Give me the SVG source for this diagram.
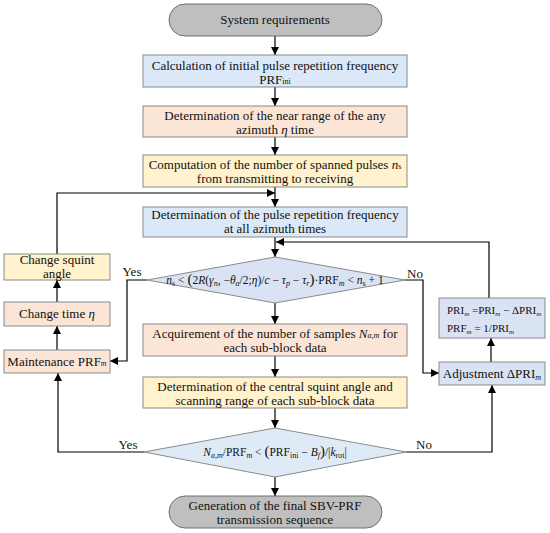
<svg xmlns="http://www.w3.org/2000/svg" width="550" height="533" viewBox="0 0 550 533">
<defs>
<marker id="ah" viewBox="0 0 10 10" refX="10" refY="5" markerWidth="8" markerHeight="8" markerUnits="userSpaceOnUse" orient="auto">
<path d="M0,0 L10,5 L0,10 z" fill="#000"/>
</marker>
</defs>
<style>
text { font-family: "Liberation Serif", "DejaVu Serif", serif; font-size: 13px; fill: #111; }
.c { text-anchor: middle; }
.term { fill: #bfbfbf; stroke: #6f6f6f; stroke-width: 1; }
.blue { fill: #dae8f7; stroke: #8a8a8a; stroke-width: 1; }
.peach { fill: #fbe5d6; stroke: #8a8a8a; stroke-width: 1; }
.yellow { fill: #fff2cc; stroke: #8a8a8a; stroke-width: 1; }
.lav { fill: #dae3f3; stroke: #8a8a8a; stroke-width: 1; }
.dia1 { fill: #dae3f3; stroke: #8a8a8a; stroke-width: 1; }
.dia2 { fill: #deebf7; stroke: #8a8a8a; stroke-width: 1; }
.arr { fill: none; stroke: #000; stroke-width: 1.2; marker-end: url(#ah); }
.sub { font-size: 8px; }
.i { font-style: italic; }
.f { font-size: 11.5px; }
.s { font-size: 11px; }
.s .sub { font-size: 7px; }
</style>

<g id="connectors">
<path class="arr" d="M275,36 V55"/>
<path class="arr" d="M275,87 V106"/>
<path class="arr" d="M275,137 V155"/>
<path class="arr" d="M275,187 V207"/>
<path class="arr" d="M57,254 V193 H275"/>
<path class="arr" d="M275,237 V257"/>
<path class="arr" d="M489,298 V242 H276"/>
<path class="arr" d="M275,303 V324"/>
<path class="arr" d="M275,356 V377"/>
<path class="arr" d="M275,408 V428"/>
<path class="arr" d="M275,477 V496"/>
<path class="arr" d="M147,280 H127 V361 H110"/>
<path class="arr" d="M57,350 V326"/>
<path class="arr" d="M57,302 V280"/>
<path class="arr" d="M144,452 H58 V373"/>
<path class="arr" d="M405,280 H423 V373 H439"/>
<path class="arr" d="M491,362 V338"/>
<path class="arr" d="M406,452 H492 V385"/>
<text class="c" x="132" y="276">Yes</text>
<text class="c" x="415" y="278">No</text>
<text class="c" x="128" y="449">Yes</text>
<text class="c" x="424" y="449">No</text>
</g>

<g id="start">
<rect class="term" x="169" y="4" width="213" height="32" rx="16"/>
<text class="c" x="275" y="24">System requirements</text>
</g>

<g id="calc-prf">
<rect class="blue" x="143" y="55" width="264" height="32"/>
<text class="c" x="275" y="70">Calculation of initial pulse repetition frequency</text>
<text class="c" x="275" y="84">PRF<tspan class="sub">ini</tspan></text>
</g>

<g id="near-range">
<rect class="peach" x="143" y="106" width="264" height="31"/>
<text class="c" x="275" y="120">Determination of the near range of the any</text>
<text class="c" x="275" y="134">azimuth <tspan class="i">η</tspan> time</text>
</g>

<g id="spanned">
<rect class="yellow" x="143" y="155" width="264" height="32"/>
<text class="c" x="275" y="169">Computation of the number of spanned pulses <tspan class="i">n</tspan><tspan class="sub">s</tspan></text>
<text class="c" x="275" y="183">from transmitting to receiving</text>
</g>

<g id="prf-all">
<rect class="blue" x="143" y="207" width="264" height="30"/>
<text class="c" x="275" y="219">Determination of the pulse repetition frequency</text>
<text class="c" x="275" y="233">at all azimuth times</text>
</g>

<g id="decision1">
<polygon class="dia1" points="147,280 275,257 405,280 275,303"/>
<text class="c f" x="275" y="284"><tspan class="i">n</tspan><tspan class="sub" dy="2">s</tspan><tspan dy="-2"> &lt; </tspan><tspan font-size="15">(</tspan>2<tspan class="i">R</tspan>(<tspan class="i">γ</tspan><tspan class="sub i" dy="2">n</tspan><tspan dy="-2">, −</tspan><tspan class="i">θ</tspan><tspan class="sub i" dy="2">a</tspan><tspan dy="-2">/2;</tspan><tspan class="i">η</tspan>)/<tspan class="i">c</tspan> − <tspan class="i">τ</tspan><tspan class="sub i" dy="2">p</tspan><tspan dy="-2"> − </tspan><tspan class="i">τ</tspan><tspan class="sub i" dy="2">r</tspan><tspan dy="-2" font-size="15">)</tspan>·PRF<tspan class="sub i" dy="2">m</tspan><tspan dy="-2"> &lt; </tspan><tspan class="i">n</tspan><tspan class="sub" dy="2">s</tspan><tspan dy="-2"> + 1</tspan></text>
</g>

<g id="samples">
<rect class="peach" x="143" y="324" width="264" height="32"/>
<text class="c" x="275" y="338">Acquirement of the number of samples <tspan class="i">N</tspan><tspan class="sub i">a,m</tspan> for</text>
<text class="c" x="275" y="352">each sub-block data</text>
</g>

<g id="squint-range">
<rect class="yellow" x="143" y="377" width="264" height="31"/>
<text class="c" x="275" y="391">Determination of the central squint angle and</text>
<text class="c" x="275" y="405">scanning range of each sub-block data</text>
</g>

<g id="decision2">
<polygon class="dia2" points="144,452 275,428 406,452 275,477"/>
<text class="c f" x="275" y="456"><tspan class="i">N</tspan><tspan class="sub i" dy="2">a,m</tspan><tspan dy="-2">/PRF</tspan><tspan class="sub i" dy="2">m</tspan><tspan dy="-2"> &lt; </tspan><tspan font-size="15">(</tspan>PRF<tspan class="sub" dy="2">ini</tspan><tspan dy="-2"> − </tspan><tspan class="i">B</tspan><tspan class="sub i" dy="2">f</tspan><tspan dy="-2" font-size="15">)</tspan>/|<tspan class="i">k</tspan><tspan class="sub" dy="2">rot</tspan><tspan dy="-2">|</tspan></text>
</g>

<g id="end">
<rect class="term" x="169" y="496" width="213" height="32" rx="16"/>
<text class="c" x="275" y="510">Generation of the final SBV-PRF</text>
<text class="c" x="275" y="524">transmission sequence</text>
</g>

<g id="change-squint">
<rect class="yellow" x="4" y="254" width="106" height="26"/>
<text class="c" x="57" y="264">Change squint</text>
<text class="c" x="57" y="278">angle</text>
</g>

<g id="change-time">
<rect class="peach" x="4" y="302" width="106" height="24"/>
<text class="c" x="57" y="318">Change time <tspan class="i">η</tspan></text>
</g>

<g id="maintenance">
<rect class="peach" x="4" y="350" width="106" height="23"/>
<text class="c" x="57" y="366">Maintenance PRF<tspan class="sub i">m</tspan></text>
</g>

<g id="pri-update">
<rect class="lav" x="439" y="298" width="106" height="40"/>
<text class="s" x="447" y="314">PRI<tspan class="sub i" dy="2">m</tspan><tspan dy="-2"> =PRI</tspan><tspan class="sub i" dy="2">m</tspan><tspan dy="-2"> − ΔPRI</tspan><tspan class="sub i" dy="2">m</tspan></text>
<text class="s" x="447" y="332">PRF<tspan class="sub i" dy="2">m</tspan><tspan dy="-2"> = 1/PRI</tspan><tspan class="sub i" dy="2">m</tspan></text>
</g>

<g id="adjustment">
<rect class="lav" x="439" y="362" width="106" height="23"/>
<text class="c" x="492" y="378">Adjustment ΔPRI<tspan class="sub i" dy="2">m</tspan></text>
</g>
</svg>
